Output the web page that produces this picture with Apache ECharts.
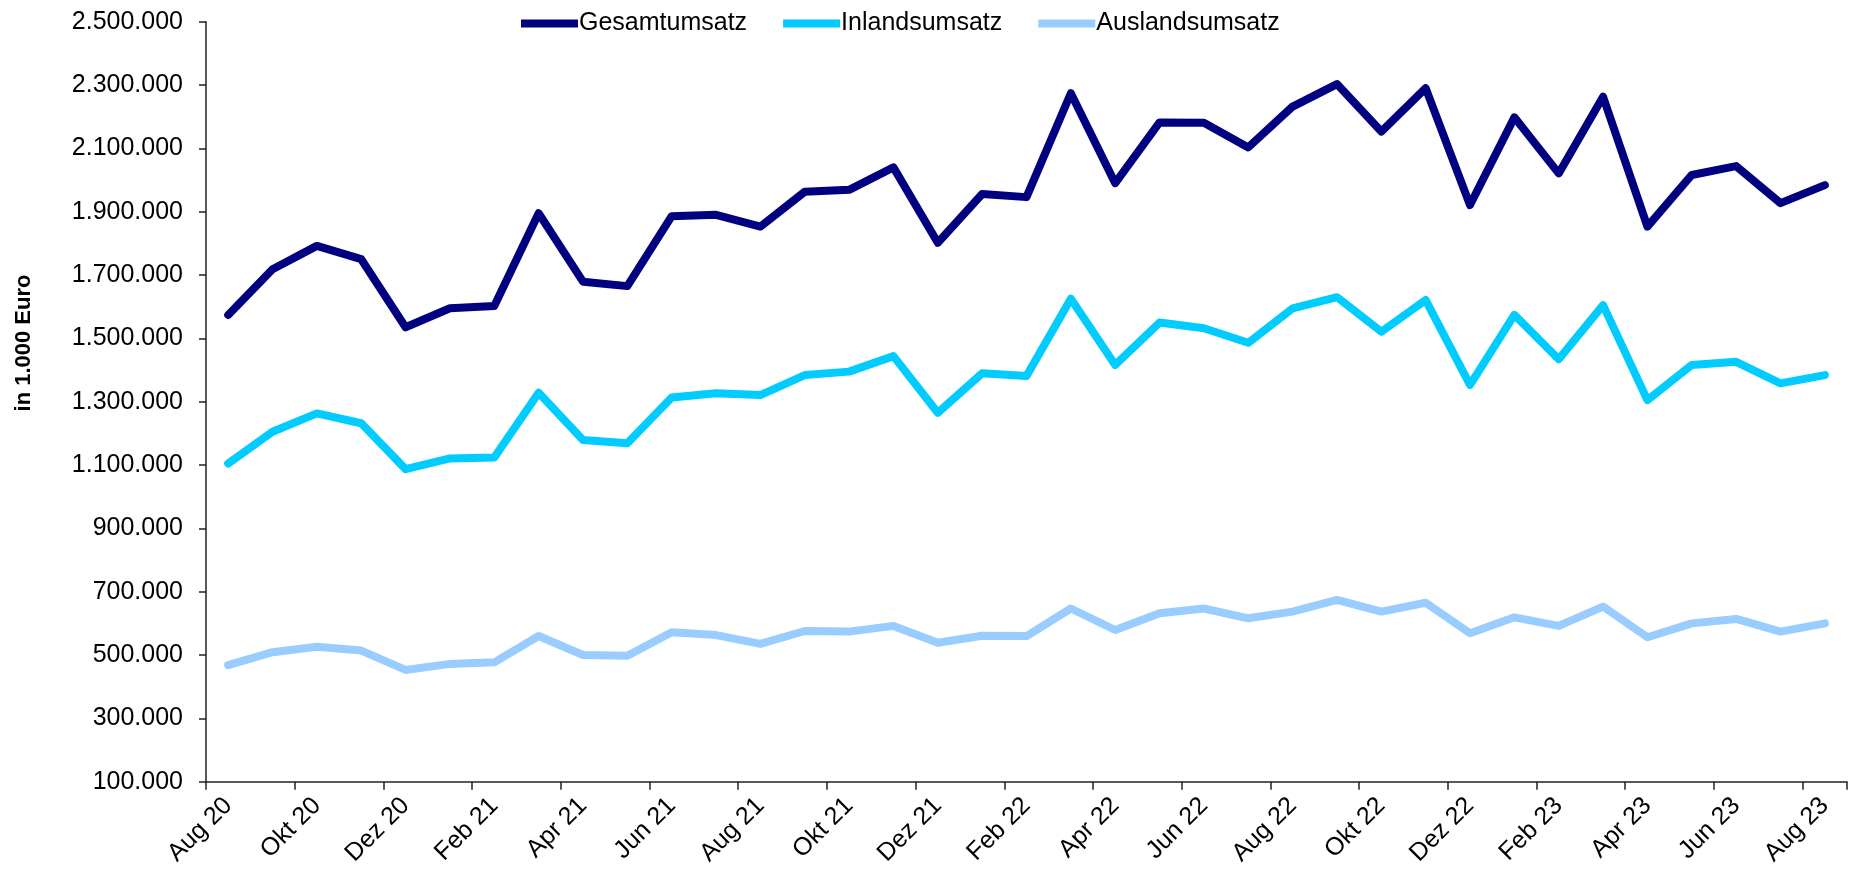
<!DOCTYPE html>
<html>
<head>
<meta charset="utf-8">
<script src="https://cdn.jsdelivr.net/npm/echarts@6/dist/echarts.min.js"></script>
<style>
html,body{margin:0;padding:0;background:#fff;}
#chart{width:1854px;height:873px;}
</style>
</head>
<body>
<div id="chart"></div>
<script>
const categories = ["Aug 20","Sep 20","Okt 20","Nov 20","Dez 20","Jan 21","Feb 21","Mrz 21","Apr 21","Mai 21","Jun 21","Jul 21","Aug 21","Sep 21","Okt 21","Nov 21","Dez 21","Jan 22","Feb 22","Mrz 22","Apr 22","Mai 22","Jun 22","Jul 22","Aug 22","Sep 22","Okt 22","Nov 22","Dez 22","Jan 23","Feb 23","Mrz 23","Apr 23","Mai 23","Jun 23","Jul 23","Aug 23"];
const gesamtumsatz = [1574000,1718000,1792000,1750000,1535000,1595000,1602000,1895000,1679000,1665000,1886000,1890000,1853000,1963000,1969000,2040000,1802000,1956000,1946000,2274000,1990000,2182000,2181000,2103000,2232000,2303000,2153000,2290000,1921000,2198000,2021000,2263000,1853000,2016000,2044000,1927000,1984000];
const inlandsumsatz = [1105000,1205000,1263000,1232000,1087000,1121000,1124000,1328000,1179000,1169000,1313000,1327000,1321000,1384000,1395000,1444000,1265000,1390000,1381000,1625000,1416000,1550000,1532000,1486000,1595000,1630000,1521000,1621000,1353000,1574000,1434000,1605000,1305000,1416000,1426000,1358000,1384000];
const auslandsumsatz = [468000,509000,526000,514000,453000,472000,477000,560000,500000,498000,572000,563000,535000,576000,574000,592000,539000,561000,560000,647000,579000,632000,647000,616000,637000,674000,637000,665000,569000,619000,592000,653000,556000,600000,614000,574000,600000];
const seriesNames = ["Gesamtumsatz","Inlandsumsatz","Auslandsumsatz"];
const yMin = 100000, yMax = 2500000, yStep = 200000;
const yTitle = "in 1.000 Euro";

function deFormat(v){ return String(v).replace(/\B(?=(\d{3})+(?!\d))/g, '.'); }

const chart = echarts.init(document.getElementById('chart'));
const colors = ['#000080','#00CCFF','#99CCFF'];
const datas = [gesamtumsatz, inlandsumsatz, auslandsumsatz];
chart.setOption({
  animation: false,
  backgroundColor: '#fff',
  textStyle: { fontFamily: 'Liberation Sans, Arial, sans-serif' },
  legend: {
    left: 516, top: 6,
    itemWidth: 57, itemHeight: 8, itemGap: 36,
    icon: 'rect',
    textStyle: { fontSize: 25, color: '#000', padding: [0,0,0,-4] },
    data: seriesNames
  },
  graphic: [{
    type: 'text', x: 24, y: 343, rotation: Math.PI / 2,
    style: { text: yTitle, font: 'bold 22px "Liberation Sans", Arial, sans-serif', fill: '#000',
             align: 'center', verticalAlign: 'middle' }
  }],
  grid: { left: 206, right: 7, top: 21.7, bottom: 91.3, containLabel: false },
  xAxis: {
    type: 'category', data: categories, boundaryGap: true,
    axisLine: { lineStyle: { color: '#222', width: 1.5 } },
    axisTick: { show: true, length: 8, interval: 1, lineStyle: { color: '#222', width: 1.5 } },
    axisLabel: { interval: 1, rotate: 45, fontSize: 25, color: '#000', margin: 20 },
    splitLine: { show: false }
  },
  yAxis: {
    type: 'value', min: yMin, max: yMax, interval: yStep,
    axisLine: { show: true, lineStyle: { color: '#222', width: 1.5 } },
    axisTick: { show: true, length: 7, lineStyle: { color: '#222', width: 1.5 } },
    axisLabel: { fontSize: 25, color: '#000', margin: 23, formatter: deFormat },
    splitLine: { show: false }
  },
  series: seriesNames.map((n, i) => ({
    name: n, type: 'line', data: datas[i],
    showSymbol: false, symbol: 'none',
    itemStyle: { color: colors[i] },
    lineStyle: { color: colors[i], width: 8, cap: 'round', join: 'round' }
  }))
});
</script>
</body>
</html>
